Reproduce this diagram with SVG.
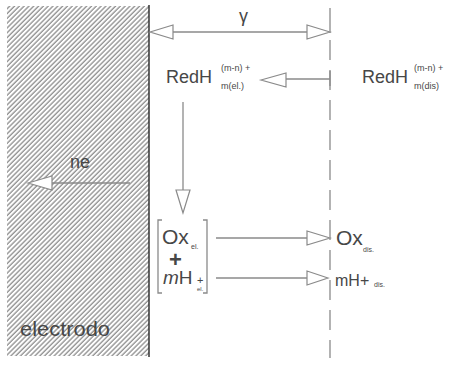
<svg xmlns="http://www.w3.org/2000/svg" width="449" height="365" viewBox="0 0 449 365">
<style>
.t{font-family:"Liberation Sans",Arial,sans-serif;fill:#474747}
.ln{stroke:#8a8a8a;stroke-width:1.3;fill:none}
.ah{stroke:#8a8a8a;stroke-width:1.2;fill:#fff}
</style>
<defs>
<pattern id="hatch" width="3.4" height="10" patternUnits="userSpaceOnUse" patternTransform="rotate(45)">
<line x1="1" y1="0" x2="1" y2="10" stroke="#8c8c8c" stroke-width="1.3"/>
</pattern>
</defs>
<rect width="449" height="365" fill="#fff"/>
<g id="electrodo">
<rect x="7" y="6" width="142" height="350" fill="url(#hatch)"/>
<line x1="149" y1="5" x2="149" y2="357" stroke="#333" stroke-width="1.5"/>
<text class="t" x="20" y="336" font-size="20" textLength="90" lengthAdjust="spacingAndGlyphs" fill="#555">electrodo</text>
</g>
<g id="interface">
<line x1="330" y1="8" x2="330" y2="33" class="ln"/>
<line x1="330" y1="40" x2="330" y2="358" class="ln" stroke-dasharray="20,10"/>
</g>
<g id="gamma">
<text class="t" x="239" y="22" font-size="18">γ</text>
</g>
<g id="redh-el">
<text class="t" x="166" y="83" font-size="18">RedH</text>
<text class="t" x="221" y="71" font-size="9">(m-n) +</text>
<text class="t" x="221" y="89" font-size="9">m(el.)</text>
</g>
<g id="redh-dis">
<text class="t" x="362" y="83" font-size="18">RedH</text>
<text class="t" x="414" y="71" font-size="9">(m-n) +</text>
<text class="t" x="414" y="89" font-size="9">m(dis)</text>
</g>
<g id="ne">
<text class="t" x="70" y="168" font-size="18">ne</text>
</g>
<g id="ox-el">
<path d="M162,220 H158 V293 H162 M203,220 H207 V293 H203" class="ln"/>
<text class="t" x="162" y="244" font-size="21">Ox</text>
<text class="t" x="191" y="249" font-size="7">el.</text>
<text class="t" x="169" y="267" font-size="22" font-weight="bold">+</text>
<text class="t" x="163" y="284" font-size="19"><tspan font-style="italic">m</tspan>H</text>
<text class="t" x="197" y="284" font-size="11">+</text>
<text class="t" x="197" y="291" font-size="6">el.</text>
</g>
<g id="ox-dis">
<text class="t" x="336" y="245" font-size="21">Ox</text>
<text class="t" x="363" y="252" font-size="7">dis.</text>
<text class="t" x="335" y="286" font-size="16">mH+</text>
<text class="t" x="374" y="287" font-size="7">dis.</text>
</g>
<g id="connectors">
<line x1="173" y1="32" x2="307" y2="32" class="ln"/>
<path d="M150,32 L173,25 L173,39 Z" class="ah"/>
<path d="M330,32 L307,25 L307,39 Z" class="ah"/>
<line x1="286" y1="79" x2="330" y2="79" class="ln"/>
<line x1="330" y1="71" x2="330" y2="86" class="ln"/>
<path d="M261,80 L286,73 L286,87 Z" class="ah"/>
<line x1="183" y1="102" x2="183" y2="190" class="ln"/>
<path d="M183,213 L176,190 L190,190 Z" class="ah"/>
<line x1="52" y1="183" x2="130" y2="183" class="ln"/>
<path d="M28,183 L52,176 L52,190 Z" class="ah"/>
<line x1="216" y1="238" x2="307" y2="238" class="ln"/>
<path d="M330,238 L307,231 L307,245 Z" class="ah"/>
<line x1="216" y1="278" x2="307" y2="278" class="ln"/>
<path d="M328,278 L307,271 L307,285 Z" class="ah"/>
</g>
</svg>
